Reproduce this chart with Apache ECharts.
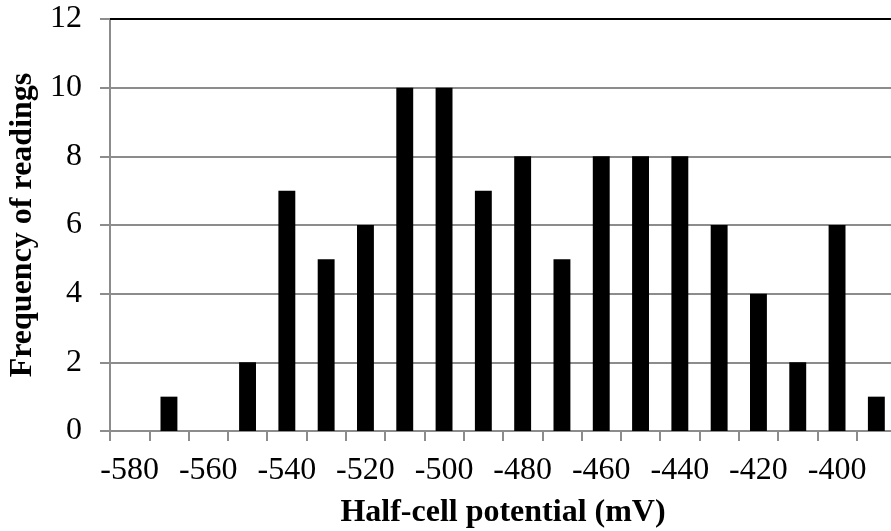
<!DOCTYPE html>
<html>
<head>
<meta charset="utf-8">
<script src="https://cdn.jsdelivr.net/npm/echarts@6/dist/echarts.min.js"></script>
<style>
  html, body { margin: 0; padding: 0; background: #fff; }
  #chart { width: 891px; height: 531px; }
</style>
</head>
<body>
<div id="chart"></div>
<script>
// Half-cell potential bins (mV) and the number of readings in each
const potentials = ['-580', '-570', '-560', '-550', '-540', '-530', '-520', '-510', '-500', '-490',
                    '-480', '-470', '-460', '-450', '-440', '-430', '-420', '-410', '-400', '-390'];
const frequency = [0, 1, 0, 2, 7, 5, 6, 10, 10, 7, 8, 5, 8, 8, 8, 6, 4, 2, 6, 1];

const FONT = '"Liberation Serif", "Times New Roman", serif';
const GREY = '#8c8c8c';

const chart = echarts.init(document.getElementById('chart'), null, { renderer: 'canvas' });
chart.setOption({
  animation: false,
  backgroundColor: '#ffffff',
  grid: { left: 110, right: -5, top: 19, bottom: 100, containLabel: false, outerBoundsMode: 'none' },
  xAxis: {
    type: 'category',
    data: potentials,
    boundaryGap: true,
    name: 'Half-cell potential (mV)',
    nameLocation: 'middle',
    nameGap: 66,
    nameTextStyle: { fontFamily: FONT, fontWeight: 'bold', fontSize: 32, color: '#000' },
    axisLine: { lineStyle: { color: GREY, width: 2 } },
    axisTick: { show: true, interval: 0, length: 10, alignWithLabel: false, lineStyle: { color: GREY, width: 2 } },
    axisLabel: { interval: 1, fontFamily: FONT, fontSize: 32, color: '#000', margin: 24 },
    splitLine: { show: false }
  },
  yAxis: {
    type: 'value',
    min: 0,
    max: 12,
    interval: 2,
    name: 'Frequency of readings',
    nameLocation: 'middle',
    nameGap: 71,
    nameTextStyle: { fontFamily: FONT, fontWeight: 'bold', fontSize: 32, color: '#000' },
    axisLine: { show: true, lineStyle: { color: GREY, width: 2 } },
    axisTick: { show: true, length: 10, lineStyle: { color: GREY, width: 2 } },
    axisLabel: { fontFamily: FONT, fontSize: 32, color: '#000', margin: 28 },
    splitLine: { show: true, lineStyle: { color: GREY, width: 2 } }
  },
  series: [{
    type: 'bar',
    data: frequency,
    barWidth: '43%',
    itemStyle: { color: '#000' },
    markLine: {
      silent: true,
      symbol: 'none',
      label: { show: false },
      lineStyle: { color: '#000', width: 2, type: 'solid' },
      data: [{ yAxis: 12 }]
    }
  }]
});
</script>
</body>
</html>
